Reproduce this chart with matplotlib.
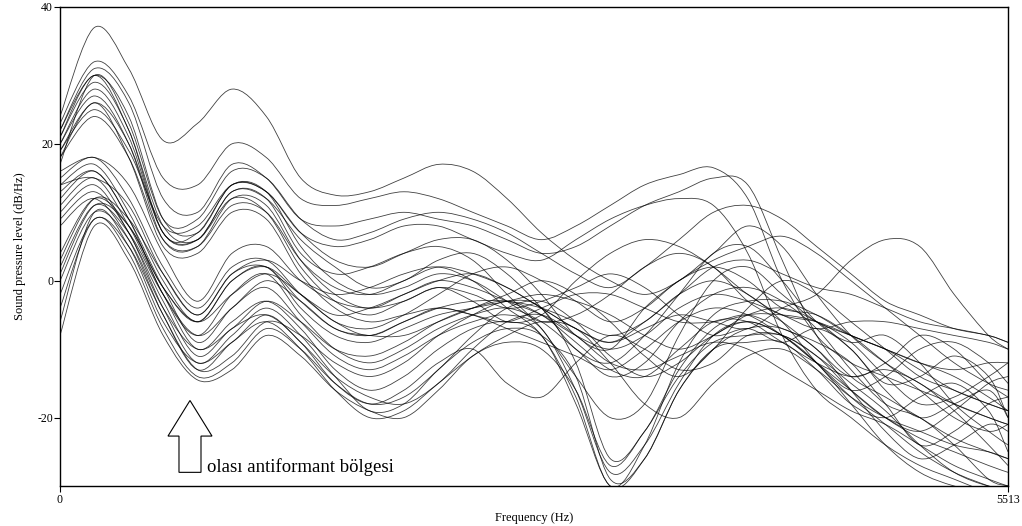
import matplotlib
matplotlib.use("Agg")
import matplotlib.pyplot as plt
from matplotlib.patches import FancyArrow, PathPatch
from matplotlib.path import Path

plt.rcParams['font.family'] = ['Liberation Serif', 'DejaVu Serif']
plt.rcParams['axes.unicode_minus'] = False

# frequency grid (Hz) on which the spectra were read
freqs = [0, 200, 400, 600, 800, 1000, 1200, 1400, 1600, 1800, 2000, 2200, 2400,
         2600, 2800, 3000, 3200, 3400, 3600, 3800, 4000, 4200, 4400, 4600, 4800,
         5000, 5200, 5400, 5513]

# spectra starting high (dB/Hz)
high_group = [
    [24, 37, 31, 20.5, 23, 28, 24, 15, 12.5, 13, 15, 17, 16, 12, 7, 3, 0, -2, 0, 4, 8, 5, -2, -8, -12, -15, -18, -20, -21],
    [23, 32, 27, 15, 14, 20, 18, 12, 11, 12, 13, 12, 10, 8, 6, 8, 11, 14, 15.5, 16.5, 12, 0, -8, -12, -14, -16, -18, -20, -21],
    [22, 31, 26, 12, 10, 17, 15, 9, 8, 9, 10, 9, 8, 6, 4, 5, 8, 11, 13, 15, 14, 3, -8, -14, -17, -20, -23, -25, -26],
    [22, 30, 24, 9, 7, 14, 13, 7, 3, 2, 4, 6, 6, 3, -2, -8, -10, -4, 0, 3, 5, 6.5, 4, 0, -4, -8, -12, -15, -16],
    [21, 30, 22, 8, 6, 13, 12, 6, 2, -1, 0, 3, 4, 1, -4, -10, -12, -8, -2, 4, 5, 0, -6, -9, -8, -12, -18, -22, -24],
    [21, 29, 22, 7, 7, 14, 13, 5, 0, -2, -1, 1, 0, -3, -6, -5, -2, 2, 4, 2, -3, -6, -10, -14, -12, -8, -10, -15, -17],
    [20, 28, 21, 7, 6, 13, 12, 4, 1, 2, 4, 5, 3, -2, -7, -14, -20, -18, -8, 0, 2, -2, -6, -8, -10, -12, -14, -17, -19],
    [20, 27, 20, 6, 5, 12, 11, 3, -2, -4, -2, 0, -1, -3, -5, -8, -10, -8, -4, -2, -3, -5, -7, -6, -6, -7, -8, -9, -10],
    [19, 26, 20, 7, 6, 12, 10, 2, -3, -5, -3, -1, -2, -4, -3, -1, 1, -1, -5, -8, -7, -9, -7, -10, -16, -20, -18, -16, -20],
    [19, 25, 19, 8, 8, 14, 13, 7, 5, 6, 8, 8, 6, 4, 3, 6, 9, 11, 12, 11, 4, -8, -16, -20, -24, -27, -29, -31, -32],
    [18, 24, 18, 6, 5, 11, 10, 3, -1, -2, 0, 2, 1, -1, -4, -7, -9, -6, -2, 2, 3, 1, -1, -2, -4, -6, -7, -8, -9],
    [18, 26, 18, 5, 4, 10, 9, 1, -4, -6, -5, -4, -5, -7, -9, -11, -13, -10, -6, -4, -5, -8, -12, -16, -14, -10, -9, -12, -15],
    [17, 30, 23, 9, 9, 16, 15, 9, 6, 7, 9, 10, 9, 7, 4, 1, -1, 2, 6, 10, 11, 9, 5, 1, -3, -5, -7, -8, -9],
]

# spectra starting in the middle
mid_group = [
    [15, 18, 12, 2, -4, 2, 3, -2, -6, -8, -6, -4, -5, -6, -4, -2, -2, -4, -6, -6, -5, -7, -9, -12, -18, -24, -22, -18, -17],
    [14, 17, 10, 0, -6, 0, 2, -4, -8, -9, -7, -5, -4, -3, -2, -3, -5, -8, -10, -8, -5, -4, -6, -10, -15, -14, -11, -14, -20],
    [13, 16, 9, -2, -8, -2, 1, -5, -10, -12, -10, -7, -5, -4, -6, -10, -14, -12, -6, -2, -1, -3, -7, -13, -18, -20, -24, -29, -30],
    [12, 16, 9, -1, -9, -4, -1, -6, -11, -13, -11, -8, -6, -5, -7, -16, -28, -24, -15, -8, -6, -8, -12, -16, -20, -23, -25, -27, -28],
    [11, 15, 8, -2, -10, -6, -3, -7, -13, -16, -14, -10, -7, -6, -8, -18, -30, -26, -16, -10, -7, -7, -10, -16, -22, -26, -24, -21, -22],
    [10, 14, 7, -3, -11, -7, -5, -9, -15, -18, -16, -12, -10, -15, -17, -12, -8, -10, -13, -12, -8, -8, -11, -15, -19, -24, -28, -30, -30],
    [9, 13, 7, -4, -12, -8, -4, -8, -14, -19, -18, -13, -9, -7, -8, -14, -29, -26, -16, -10, -9, -9, -13, -18, -20, -17, -15, -19, -25],
    [8, 12, 6, -5, -13, -9, -6, -10, -16, -20, -19, -15, -11, -8, -6, -7, -12, -18, -20, -15, -11, -10, -13, -17, -20, -22, -24, -25, -26],
    [16, 18, 14, 4, -3, 4, 5, 0, -3, -4, -3, -1, -3, -6, -5, 0, 4, 6, 5, 2, -2, -5, -6, -8, -10, -12, -13, -12, -12],
    [14, 15, 11, 1, -5, 1, 2, -3, -7, -8, -8, -6, -4, -2, 0, -2, -6, -11, -14, -10, -4, 0, -2, -6, -10, -14, -16, -18, -19],
]

# spectra starting low
low_group = [
    [3, 12, 9, 1, -5, 1, 3, 0, -2, -1, 1, 2, 0, -4, -8, -17, -30, -24, -12, -5, -3, -3, -5, -8, -10, -13, -16, -18, -19],
    [2, 11, 7, -2, -8, -4, 0, -3, -7, -8, -6, -4, -3, -3, -4, -6, -8, -6, -2, 0, -2, -6, -12, -17, -21, -25, -28, -30, -31],
    [0, 10, 6, -4, -10, -7, -3, -6, -10, -11, -9, -6, -4, -3, -5, -9, -13, -14, -10, -6, -6, -9, -12, -14, -13, -15, -19, -24, -27],
    [-2, 9, 5, -5, -13, -11, -6, -8, -12, -14, -12, -8, -5, -3, -4, -12, -26, -22, -13, -7, -5, -5, -6, -9, -14, -18, -17, -14, -12],
    [-4, 9, 4, -7, -14, -12, -7, -10, -15, -18, -17, -13, -8, -4, -3, -6, -11, -14, -12, -8, -6, -8, -12, -18, -24, -28, -30, -31, -31],
    [-8, 8, 3, -8, -14.5, -13, -8, -11, -16, -19, -20, -16, -11, -9, -10, -16, -27, -22, -14, -9, -8, -8, -11, -16, -20, -22, -19, -15, -14],
    [-6, 10, 5, -6, -12, -9, -5, -9, -14, -17, -18, -15, -10, -6, -5, -8, -12, -13, -11, -9, -10, -13, -16, -19, -21, -24, -27, -29, -30],
    [1, 11, 8, -1, -6, -2, 1, -2, -6, -7, -5, -2, 1, 2, 0, -3, -6, -4, 0, 2, 0, -4, -5, -8, -12, -16, -20, -22, -21],
    [4, 12, 8, -1, -6, 0, 2, -2, -5, -4, -2, 0, 1, -1, -4, -7, -9, -7, -5, -6, -7, -4, -2, 3, 6, 5, -2, -8, -10],
]


def smooth_path(x, y):
    # Catmull-Rom style cubic Bezier segments through the read points
    n = len(x)
    verts = [(x[0], y[0])]
    codes = [Path.MOVETO]
    for i in range(n - 1):
        xa, ya = (x[i - 1], y[i - 1]) if i > 0 else (x[i], y[i])
        xd, yd = (x[i + 2], y[i + 2]) if i + 2 < n else (x[i + 1], y[i + 1])
        c1 = (x[i] + (x[i + 1] - xa) / 6, y[i] + (y[i + 1] - ya) / 6)
        c2 = (x[i + 1] - (xd - x[i]) / 6, y[i + 1] - (yd - y[i]) / 6)
        verts += [c1, c2, (x[i + 1], y[i + 1])]
        codes += [Path.CURVE4] * 3
    return Path(verts, codes)


fig = plt.figure(figsize=(10.22, 5.26), dpi=100)
ax = fig.add_axes([0.0587, 0.076, 0.9276, 0.9107])

for spec in high_group + mid_group + low_group:
    ax.add_patch(PathPatch(smooth_path(freqs, spec), fill=False,
                           ec='black', lw=0.6, alpha=0.75))

ax.set_xlim(0, 5513)
ax.set_ylim(-30, 40)
ax.set_xticks([0, 5513])
ax.set_yticks([-20, 0, 20, 40])
ax.tick_params(direction='out', length=4, width=0.8, labelsize=8.5, pad=1)
ax.tick_params(axis='x', pad=2)
for s in ax.spines.values():
    s.set_linewidth(1.0)

ax.set_xlabel('Frequency (Hz)', fontsize=9, labelpad=4)
ax.set_ylabel('Sound pressure level (dB/Hz)', fontsize=9, labelpad=8)

# hollow arrow marking the antiformant area
ax.add_patch(FancyArrow(756, -28, 0, 10.5, width=128, head_width=256, head_length=5.2,
                        length_includes_head=True, fc='white', ec='black', lw=0.8, zorder=3))
ax.text(855, -28, 'olası antiformant bölgesi', fontsize=13.5, va='baseline', ha='left')

fig.savefig('out.png', dpi=100)
